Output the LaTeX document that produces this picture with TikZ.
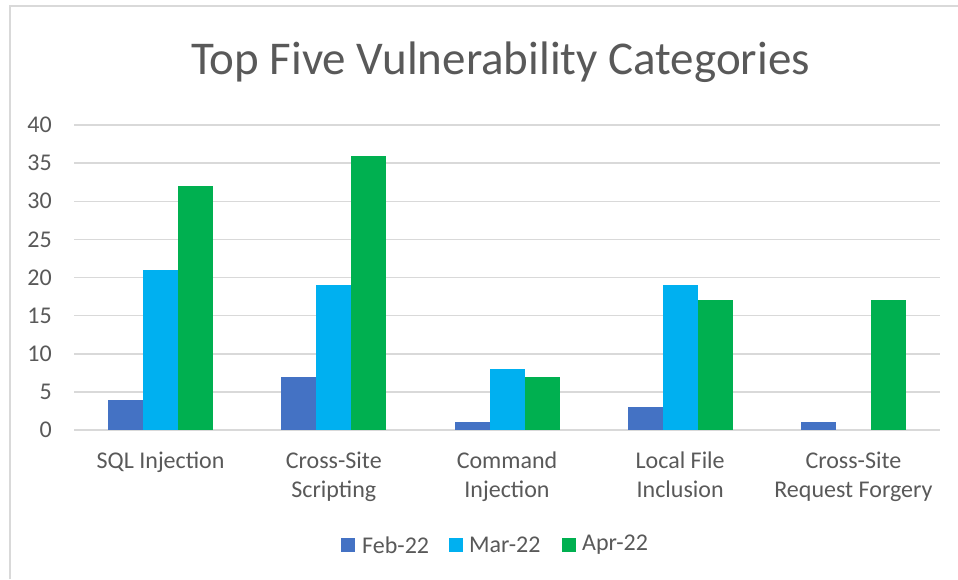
\documentclass[tikz,border=0pt]{standalone}
\usepackage{fontspec}
\setmainfont{Carlito}
\definecolor{febblue}{HTML}{4472C4}
\definecolor{marcyan}{HTML}{00B0F0}
\definecolor{aprgreen}{HTML}{00B050}
\definecolor{gridgray}{HTML}{D9D9D9}
\definecolor{textgray}{HTML}{595959}
\tikzset{
  gridline/.style = {gridgray, line width = 1.5pt},
  ticklabel/.style = {text = textgray, font = \fontsize{24}{29}\selectfont, anchor = east, inner sep = 0pt},
  catlabel/.style = {text = textgray, font = \fontsize{24}{29}\selectfont, align = center, anchor = north, inner sep = 0pt},
  febbar/.style = {fill = febblue},
  marbar/.style = {fill = marcyan},
  aprbar/.style = {fill = aprgreen},
  legendbox/.style = {minimum size = 14pt, inner sep = 0pt},
  legendtext/.style = {text = textgray, font = \fontsize{24}{29}\selectfont, anchor = west, inner sep = 0pt}
}
\begin{document}
\begin{tikzpicture} [x = 1pt, y = -1pt]
\useasboundingbox (0,0) rectangle (958,579);
% frame
\draw[gridline] (10,579) -- (10,6) -- (958,6);
% title
\node[text = textgray, font = \fontsize{47}{52}\selectfont, inner sep = 0pt] (title) at (500.5,62) {Top Five Vulnerability Categories};
% grid and tick labels
\foreach \v in {0,5,...,40} {
  \draw[gridline] (74,430-7.625*\v) -- (940,430-7.625*\v);
  \node[ticklabel] (tick\v) at (52,430-7.625*\v) {\v};
}
% bars: SQL Injection
\fill[febbar] (108.1,430) rectangle +(35,-4*7.625);
\fill[marbar] (143.1,430) rectangle +(35,-21*7.625);
\fill[aprbar] (178.1,430) rectangle +(35,-32*7.625);
% bars: Cross-Site Scripting
\fill[febbar] (281.3,430) rectangle +(35,-7*7.625);
\fill[marbar] (316.3,430) rectangle +(35,-19*7.625);
\fill[aprbar] (351.3,430) rectangle +(35,-36*7.625);
% bars: Command Injection
\fill[febbar] (454.5,430) rectangle +(35,-1*7.625);
\fill[marbar] (489.5,430) rectangle +(35,-8*7.625);
\fill[aprbar] (524.5,430) rectangle +(35,-7*7.625);
% bars: Local File Inclusion
\fill[febbar] (627.7,430) rectangle +(35,-3*7.625);
\fill[marbar] (662.7,430) rectangle +(35,-19*7.625);
\fill[aprbar] (697.7,430) rectangle +(35,-17*7.625);
% bars: Cross-Site Request Forgery
\fill[febbar] (800.9,430) rectangle +(35,-1*7.625);
\fill[aprbar] (870.9,430) rectangle +(35,-17*7.625);
% category labels
\node[catlabel] (sqli) at (160.6,452) {SQL Injection};
\node[catlabel] (xss) at (333.8,452) {Cross-Site\\Scripting};
\node[catlabel] (cmdi) at (507,452) {Command\\Injection};
\node[catlabel] (lfi) at (680.2,452) {Local File\\Inclusion};
\node[catlabel] (csrf) at (853.4,452) {Cross-Site\\Request Forgery};
% legend
\node[legendbox, fill = febblue] (febkey) at (348,545) {};
\node[legendtext] (febtext) at (362,545) {Feb-22};
\node[legendbox, fill = marcyan] (markey) at (456,545) {};
\node[legendtext] (martext) at (469,545) {Mar-22};
\node[legendbox, fill = aprgreen] (aprkey) at (569,545) {};
\node[legendtext] (aprtext) at (582,545) {Apr-22};
\end{tikzpicture}
\end{document}
